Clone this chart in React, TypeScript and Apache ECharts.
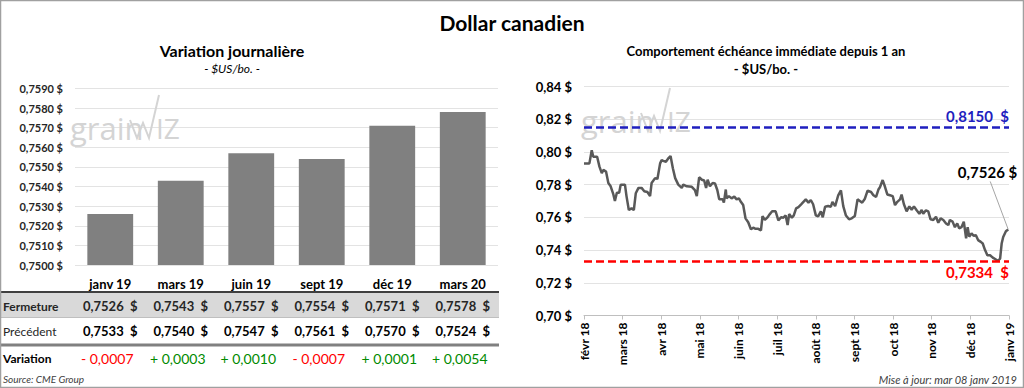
import React, { useEffect, useRef } from "react";
import * as echarts from "echarts";

// ---------- data ----------
const categories = ["janv 19", "mars 19", "juin 19", "sept 19", "déc 19", "mars 20"];
const closeVals = [0.7526, 0.7543, 0.7557, 0.7554, 0.7571, 0.7578];
const prevVals = [0.7533, 0.754, 0.7547, 0.7561, 0.757, 0.7524];
const changeVals = [-0.0007, 0.0003, 0.001, -0.0007, 0.0001, 0.0054];

const monthLabels = [
  "févr 18", "mars 18", "avr 18", "mai 18", "juin 18", "juil 18",
  "août 18", "sept 18", "oct 18", "nov 18", "déc 18", "janv 19",
];

const highLevel = 0.815;
const lowLevel = 0.7334;
const lastLevel = 0.7526;

// [month position since févr 18, price]
const history: [number, number][] = [
  [0.0, 0.793], [0.14, 0.793], [0.2, 0.801], [0.24, 0.797], [0.34, 0.797], [0.4, 0.791],
  [0.46, 0.787], [0.5, 0.789], [0.57, 0.788], [0.63, 0.781], [0.69, 0.779], [0.76, 0.774],
  [0.8, 0.77], [0.85, 0.775], [0.91, 0.775], [0.95, 0.78], [1.06, 0.78], [1.1, 0.773],
  [1.16, 0.7645], [1.23, 0.7655], [1.29, 0.7645], [1.34, 0.7747], [1.41, 0.778], [1.49, 0.778],
  [1.56, 0.776], [1.64, 0.7755], [1.71, 0.773], [1.75, 0.781], [1.84, 0.784], [1.9, 0.7835],
  [1.97, 0.793], [2.01, 0.795], [2.05, 0.7945], [2.12, 0.794], [2.18, 0.796], [2.24, 0.7975],
  [2.3, 0.79], [2.36, 0.784], [2.44, 0.78], [2.53, 0.778], [2.57, 0.78], [2.66, 0.779],
  [2.79, 0.7787], [2.87, 0.7767], [2.92, 0.773], [2.98, 0.7845], [3.05, 0.783], [3.11, 0.7825],
  [3.16, 0.778], [3.2, 0.783], [3.26, 0.779], [3.33, 0.781], [3.39, 0.7807], [3.45, 0.7767],
  [3.5, 0.771], [3.59, 0.771], [3.62, 0.769], [3.67, 0.777], [3.69, 0.7716], [3.75, 0.773],
  [3.82, 0.7716], [3.89, 0.7727], [3.95, 0.771], [4.01, 0.7716], [4.06, 0.7695], [4.12, 0.7675],
  [4.18, 0.7594], [4.25, 0.757], [4.32, 0.7527], [4.38, 0.7537], [4.44, 0.753], [4.51, 0.753],
  [4.58, 0.752], [4.62, 0.7608], [4.68, 0.7584], [4.75, 0.76], [4.81, 0.762], [4.87, 0.7637],
  [4.96, 0.7637], [5.03, 0.7582], [5.1, 0.76], [5.16, 0.7598], [5.22, 0.7612], [5.27, 0.7553],
  [5.31, 0.762], [5.38, 0.7598], [5.43, 0.7612], [5.49, 0.7655], [5.55, 0.7663], [5.62, 0.768],
  [5.68, 0.7695], [5.74, 0.771], [5.81, 0.769], [5.87, 0.7706], [5.93, 0.768], [6.0, 0.7612],
  [6.06, 0.7606], [6.13, 0.7637], [6.18, 0.76], [6.24, 0.7665], [6.32, 0.7669], [6.39, 0.7665],
  [6.43, 0.7695], [6.5, 0.7669], [6.58, 0.7735], [6.65, 0.7765], [6.71, 0.7669], [6.78, 0.7611],
  [6.86, 0.7588], [6.93, 0.7594], [7.01, 0.7608], [7.08, 0.771], [7.14, 0.77], [7.2, 0.769],
  [7.27, 0.7714], [7.34, 0.7763], [7.43, 0.7755], [7.49, 0.7735], [7.56, 0.7725], [7.62, 0.777],
  [7.66, 0.7784], [7.73, 0.7828], [7.79, 0.7787], [7.85, 0.774], [7.92, 0.7735], [7.99, 0.773],
  [8.05, 0.7675], [8.11, 0.7695], [8.18, 0.771], [8.22, 0.7739], [8.28, 0.768], [8.35, 0.7637],
  [8.42, 0.7667], [8.48, 0.7647], [8.54, 0.7667], [8.61, 0.7643], [8.68, 0.7622], [8.74, 0.7645],
  [8.78, 0.7622], [8.85, 0.7643], [8.91, 0.7637], [8.97, 0.7588], [9.04, 0.7584], [9.11, 0.7604],
  [9.17, 0.7567], [9.23, 0.7594], [9.3, 0.7584], [9.37, 0.7563], [9.43, 0.7553], [9.47, 0.7584],
  [9.54, 0.7574], [9.6, 0.754], [9.66, 0.7563], [9.71, 0.7533], [9.77, 0.754], [9.83, 0.7574],
  [9.89, 0.7472], [9.93, 0.754], [9.97, 0.7482], [10.03, 0.7502], [10.09, 0.7486], [10.14, 0.7492],
  [10.2, 0.7461], [10.27, 0.745], [10.32, 0.744], [10.38, 0.74], [10.44, 0.7368], [10.51, 0.7368],
  [10.58, 0.7354], [10.64, 0.7345], [10.71, 0.7334], [10.77, 0.7348], [10.81, 0.744], [10.85, 0.748],
  [10.92, 0.7515], [10.98, 0.7526],
];

// ---------- helpers ----------
const FONT = 'Lato, "Noto Sans", sans-serif';
const fmt = (v: number, d: number) => v.toFixed(d).replace(".", ",");
const fmtChange = (v: number) => (v < 0 ? "- " : "+ ") + fmt(Math.abs(v), 4);

export default function App() {
  const ref = useRef<HTMLDivElement>(null);

  useEffect(() => {
    document.body.style.margin = "0";
    const chart = echarts.init(ref.current!, null, { renderer: "svg" });

    const option: any = {
      animation: false,
      backgroundColor: "#ffffff",
      textStyle: { fontFamily: FONT },
      grid: [
        { left: 75, top: 88.5, width: 423, height: 176.5 },
        { left: 584, top: 86.5, width: 425, height: 229 },
      ],
      xAxis: [
        {
          gridIndex: 0,
          type: "category",
          data: categories,
          axisLine: { show: false },
          axisTick: { show: false },
          axisLabel: { margin: 12, fontSize: 13, fontWeight: "bold", color: "#000", fontFamily: FONT },
        },
        {
          gridIndex: 1,
          type: "value",
          min: 0,
          max: 11,
          interval: 1,
          splitLine: { show: false },
          axisLine: { show: true, lineStyle: { color: "#bfbfbf", width: 1 } },
          axisTick: { show: true, length: 4, lineStyle: { color: "#bfbfbf" } },
          axisLabel: {
            rotate: 90,
            margin: 7,
            fontSize: 12,
            fontWeight: "bold",
            color: "#000",
            fontFamily: FONT,
            formatter: (v: number) => monthLabels[Math.round(v)] ?? "",
          },
        },
      ],
      yAxis: [
        {
          gridIndex: 0,
          type: "value",
          min: 0.75,
          max: 0.759,
          interval: 0.001,
          axisLine: { show: false },
          axisTick: { show: false },
          splitLine: { lineStyle: { color: "#e3e3e3", width: 1 } },
          axisLabel: {
            margin: 12,
            fontSize: 11,
            fontWeight: "bold",
            color: "#262626",
            fontFamily: FONT,
            formatter: (v: number) => fmt(v, 4) + " $",
          },
        },
        {
          gridIndex: 1,
          type: "value",
          min: 0.7,
          max: 0.84,
          interval: 0.02,
          axisLine: { show: false },
          axisTick: { show: false },
          splitLine: { lineStyle: { color: "#e3e3e3", width: 1 } },
          axisLabel: {
            margin: 12,
            fontSize: 13,
            fontWeight: "bold",
            color: "#000",
            fontFamily: FONT,
            formatter: (v: number) => fmt(v, 2) + " $",
          },
        },
      ],
      series: [
        {
          type: "bar",
          xAxisIndex: 0,
          yAxisIndex: 0,
          data: closeVals,
          barWidth: "65%",
          itemStyle: { color: "#808080" },
          z: 3,
        },
        {
          type: "line",
          xAxisIndex: 1,
          yAxisIndex: 1,
          data: history,
          showSymbol: false,
          symbol: "none",
          lineStyle: { color: "#595959", width: 2.5 },
          z: 4,
          markLine: {
            silent: true,
            precision: 4,
            symbol: ["none", "none"],
            data: [
              {
                yAxis: highLevel,
                lineStyle: { color: "#1f1fbf", width: 2.5, type: [8, 4] },
                label: {
                  position: "insideEndTop",
                  distance: [0, 4],
                  formatter: fmt(highLevel, 4) + "  $",
                  color: "#1f1fbf",
                  fontSize: 15,
                  fontWeight: "bold",
                  fontFamily: FONT,
                },
              },
              {
                yAxis: lowLevel,
                lineStyle: { color: "#ff0000", width: 2.5, type: [8, 4] },
                label: {
                  position: "insideEndBottom",
                  distance: [0, 4],
                  formatter: fmt(lowLevel, 4) + "  $",
                  color: "#ff0000",
                  fontSize: 15,
                  fontWeight: "bold",
                  fontFamily: FONT,
                },
              },
            ],
          },
        },
      ],
    };
    chart.setOption(option);

    // ---- table + annotations ----
    const colX = categories.map((_, i) => chart.convertToPixel({ xAxisIndex: 0 }, i) as number);
    const last = history[history.length - 1];
    const lp = chart.convertToPixel({ gridIndex: 1 }, last) as number[];

    const txt = (text: string, x: number, y: number, o: any = {}) => ({
      type: "text",
      x,
      y,
      z: 10,
      style: {
        text,
        fill: o.fill ?? "#000",
        fontSize: o.fontSize ?? 12,
        fontWeight: o.fontWeight ?? "normal",
        fontStyle: o.fontStyle ?? "normal",
        fontFamily: FONT,
        align: o.align ?? "center",
        verticalAlign: "middle",
      },
    });

    const watermark = (dx: number, dy: number) => ({
      type: "group",
      x: dx,
      y: dy,
      z: 0,
      silent: true,
      children: [
        {
          type: "text",
          x: 70,
          y: 128,
          style: {
            text: "grain",
            fill: "#d4d4d4",
            fontSize: 31,
            fontFamily: '"Open Sans", Lato, sans-serif',
            fontWeight: "normal",
            align: "left",
            verticalAlign: "middle",
          },
        },
        {
          type: "polyline",
          shape: { points: [[130, 120], [137, 138], [143, 123], [149, 138], [159, 95]] },
          style: { stroke: "#d4d4d4", lineWidth: 2, fill: "none" },
        },
        {
          type: "text",
          x: 156,
          y: 128,
          style: {
            text: "IZ",
            fill: "#d4d4d4",
            fontSize: 28,
            fontFamily: '"Open Sans", Lato, sans-serif',
            align: "left",
            verticalAlign: "middle",
          },
        },
      ],
    });

    const graphic: any[] = [
      { type: "rect", z: 20, shape: { x: 0.5, y: 0.5, width: 1023, height: 387 }, style: { fill: "none", stroke: "#a0a0a0", lineWidth: 1.5 } },
      watermark(0, 0),
      watermark(511, -7),
      txt("Dollar canadien", 512, 22, { fontSize: 21, fontWeight: "bold" }),
      txt("Variation journalière", 232, 50, { fontSize: 16, fontWeight: "bold" }),
      txt("- $US/bo. -", 232, 68, { fontSize: 12, fontStyle: "italic" }),
      txt("Comportement échéance immédiate depuis 1 an", 766, 51, { fontSize: 13, fontWeight: "bold" }),
      txt("- $US/bo. -", 766, 69, { fontSize: 13, fontWeight: "bold" }),
      // table
      { type: "rect", z: 1, shape: { x: 0, y: 292, width: 499, height: 25 }, style: { fill: "#d9d9d9" } },
      { type: "line", z: 2, shape: { x1: 0, y1: 292, x2: 499, y2: 292 }, style: { stroke: "#3f3f3f", lineWidth: 2 } },
      { type: "line", z: 2, shape: { x1: 0, y1: 317.5, x2: 499, y2: 317.5 }, style: { stroke: "#bfbfbf", lineWidth: 1 } },
      { type: "line", z: 2, shape: { x1: 0, y1: 345, x2: 499, y2: 345 }, style: { stroke: "#808080", lineWidth: 3 } },
      txt("Fermeture", 3, 306, { align: "left", fontSize: 12, fontWeight: "bold", fill: "#262626" }),
      txt("Précédent", 3, 331, { align: "left", fontSize: 12, fill: "#262626" }),
      txt("Variation", 3, 358, { align: "left", fontSize: 12, fontWeight: "bold" }),
      txt("Source: CME Group", 3, 379, { align: "left", fontSize: 10, fontStyle: "italic", fill: "#404040" }),
      txt("Mise à jour: mar 08 janv 2019", 1017, 379, { align: "right", fontSize: 11, fontStyle: "italic", fill: "#404040" }),
      // last price annotation
      { type: "line", z: 10, shape: { x1: lp[0] - 18, y1: lp[1] - 48, x2: lp[0], y2: lp[1] }, style: { stroke: "#a6a6a6", lineWidth: 1 } },
      txt(fmt(lastLevel, 4) + " $", lp[0] + 9, lp[1] - 57, { align: "right", fontSize: 15, fontWeight: "bold" }),
    ];

    colX.forEach((x, i) => {
      graphic.push(txt(fmt(closeVals[i], 4) + "  $", x, 306, { fontSize: 13, fontWeight: "bold", fill: "#262626" }));
      graphic.push(txt(fmt(prevVals[i], 4) + "  $", x, 331, { fontSize: 13, fontWeight: "bold" }));
      graphic.push(
        txt(fmtChange(changeVals[i]), x - 3, 358, {
          fontSize: 14,
          fill: changeVals[i] < 0 ? "#ff0000" : "#008a00",
        })
      );
    });

    chart.setOption({ graphic });

    return () => chart.dispose();
  }, []);

  return <div ref={ref} style={{ width: 1024, height: 388 }} />;
}
